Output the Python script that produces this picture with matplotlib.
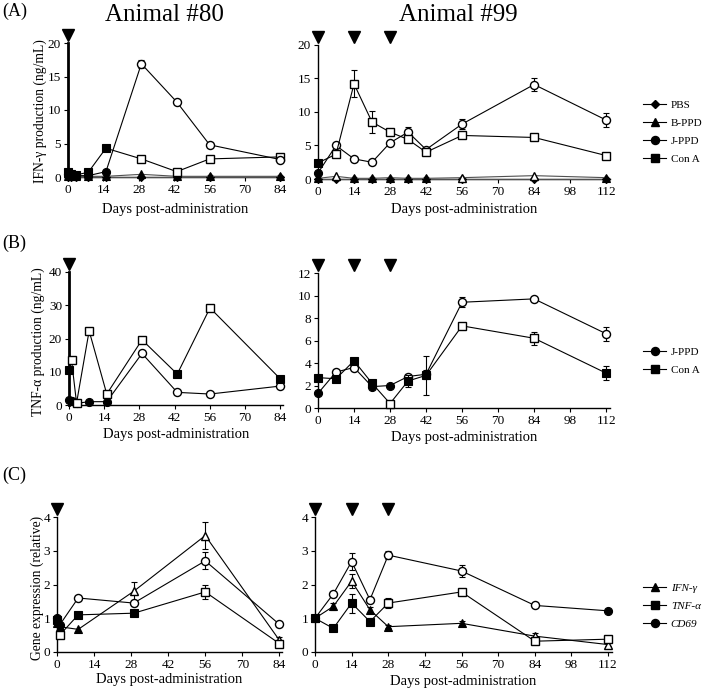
import numpy as np
import matplotlib
matplotlib.use("Agg")
import matplotlib.pyplot as plt
from matplotlib.lines import Line2D
from matplotlib import transforms

plt.rcParams['font.family'] = ['Liberation Serif', 'DejaVu Serif']
plt.rcParams['mathtext.fontset'] = 'stix'

# ---------------- data ----------------
days80 = [0, 1, 3, 8, 15, 29, 43, 56, 84]
days99 = [0, 7, 14, 21, 28, 35, 42, 56, 84, 112]
daysC80 = [0, 1, 8, 29, 56, 84]
daysC99 = [0, 7, 14, 21, 28, 56, 84, 112]
dose80 = [0]
dose99 = [0, 14, 28]

# (A) IFN-gamma, animal 80
a80_pbs = [0.0, 0.0, 0.0, 0.0, 0.0, 0.0, 0.0, 0.0, 0.0]
a80_pbs_f = [1, 1, 1, 1, 1, 1, 1, 1, 1]
a80_bppd = [0.1, 0.1, 0.1, 0.1, 0.1, 0.4, 0.1, 0.1, 0.1]
a80_bppd_f = [1, 1, 1, 1, 1, 1, 1, 1, 1]
a80_jppd = [0.5, 0.3, 0.2, 0.2, 0.8, 16.9, 11.2, 4.8, 2.6]
a80_jppd_f = [1, 1, 1, 1, 1, 0, 0, 0, 0]
a80_jppd_e = [0, 0, 0, 0, 0, 0.6, 0, 0, 0]
a80_cona = [0.8, 0.5, 0.3, 0.7, 4.3, 2.7, 0.8, 2.7, 3.0]
a80_cona_f = [1, 1, 1, 1, 1, 0, 0, 0, 0]
a80_cona_e = [0, 0, 0, 0, 0, 0, 0, 0, 0]

# (A) IFN-gamma, animal 99
a99_pbs = [0.0, 0.0, 0.0, 0.0, 0.0, 0.0, 0.0, 0.0, 0.0, 0.0]
a99_pbs_f = [1, 1, 1, 1, 1, 1, 1, 1, 1, 1]
a99_bppd = [0.1, 0.4, 0.1, 0.1, 0.2, 0.1, 0.1, 0.2, 0.5, 0.2]
a99_bppd_f = [1, 0, 1, 1, 1, 1, 1, 0, 0, 1]
a99_jppd = [0.9, 5.0, 3.0, 2.5, 5.4, 7.0, 4.4, 8.2, 14.1, 8.8]
a99_jppd_f = [1, 0, 0, 0, 0, 0, 0, 0, 0, 0]
a99_jppd_e = [0, 0.2, 0.1, 0.1, 0.3, 0.8, 0.3, 0.8, 0.9, 1.0]
a99_cona = [2.4, 3.7, 14.2, 8.5, 7.0, 5.9, 4.0, 6.5, 6.2, 3.5]
a99_cona_f = [1, 0, 0, 0, 0, 0, 0, 0, 0, 0]
a99_cona_e = [0.2, 0.2, 2.0, 1.7, 0.5, 0.4, 0.3, 0.3, 0.4, 0.3]

# (B) TNF-alpha, animal 80
b80_jppd = [1.5, 1.3, 0.5, 1.0, 1.0, 15.5, 3.8, 3.3, 5.7]
b80_jppd_f = [1, 1, 1, 1, 1, 0, 0, 0, 0]
b80_jppd_e = [0, 0, 0, 0, 0, 0, 0, 0, 0]
b80_cona = [10.5, 13.5, 0.6, 22.3, 3.3, 19.6, 9.3, 29.2, 7.8]
b80_cona_f = [1, 0, 0, 0, 0, 0, 1, 0, 1]
b80_cona_e = [0, 0, 0, 0, 0, 0, 0, 0, 0]

# (B) TNF-alpha, animal 99
b99_jppd = [1.3, 3.2, 3.6, 1.9, 2.0, 2.8, 3.0, 9.4, 9.7, 6.6]
b99_jppd_f = [1, 0, 0, 1, 1, 0, 0, 0, 0, 0]
b99_jppd_e = [0, 0, 0, 0, 0, 0.2, 0.4, 0.45, 0.1, 0.6]
b99_cona = [2.7, 2.6, 4.2, 2.2, 0.4, 2.4, 2.9, 7.3, 6.2, 3.1]
b99_cona_f = [1, 1, 1, 1, 0, 1, 1, 0, 0, 1]
b99_cona_e = [0, 0, 0.2, 0.2, 0, 0.5, 1.7, 0.2, 0.6, 0.6]

# (C) gene expression, animal 80
c80_ifn = [0.85, 0.75, 0.67, 1.8, 3.45, 0.35]
c80_ifn_f = [1, 1, 1, 0, 0, 0]
c80_ifn_e = [0, 0, 0, 0.28, 0.4, 0.1]
c80_tnf = [0.95, 0.5, 1.1, 1.15, 1.78, 0.25]
c80_tnf_f = [1, 0, 1, 1, 0, 0]
c80_tnf_e = [0, 0, 0, 0, 0.2, 0.05]
c80_cd69 = [1.0, 0.8, 1.6, 1.45, 2.7, 0.82]
c80_cd69_f = [1, 1, 0, 0, 0, 0]
c80_cd69_e = [0, 0, 0, 0.1, 0.25, 0]

# (C) gene expression, animal 99
c99_ifn = [1.0, 1.35, 2.1, 1.25, 0.75, 0.85, 0.47, 0.22]
c99_ifn_f = [1, 1, 0, 1, 1, 1, 0, 0]
c99_ifn_e = [0, 0.1, 0.2, 0.08, 0.05, 0.08, 0.1, 0.05]
c99_tnf = [1.0, 0.7, 1.45, 0.9, 1.45, 1.78, 0.32, 0.38]
c99_tnf_f = [1, 1, 1, 1, 0, 0, 0, 0]
c99_tnf_e = [0, 0, 0.28, 0.1, 0.15, 0.05, 0, 0]
c99_cd69 = [1.0, 1.72, 2.68, 1.55, 2.87, 2.4, 1.38, 1.22]
c99_cd69_f = [1, 0, 0, 0, 0, 0, 0, 1]
c99_cd69_e = [0, 0.05, 0.25, 0.05, 0.12, 0.18, 0.05, 0]

xticks80 = [0, 14, 28, 42, 56, 70, 84]
xticks99 = [0, 14, 28, 42, 56, 70, 84, 98, 112]

legA = ['PBS', 'B-PPD', 'J-PPD', 'Con A']
legB = ['J-PPD', 'Con A']
legC = ['IFN-γ', 'TNF-α', 'CD69']

# ---------------- figure ----------------
W, H = 708, 693
fig = plt.figure(figsize=(W / 100, H / 100), dpi=100)


def box(x0, y0, x1, y1):
    return [x0 / W, 1 - y1 / H, (x1 - x0) / W, (y1 - y0) / H]


def px(x, y):
    return x / W, 1 - y / H


def setup(ax, xlim, ylim, yticks, xticks, thick=False):
    ax.set_xlim(*xlim)
    ax.set_ylim(*ylim)
    ax.set_xticks(xticks)
    ax.set_yticks(yticks)
    for s in ['top', 'right']:
        ax.spines[s].set_visible(False)
    ax.spines['bottom'].set_linewidth(1.0)
    ax.spines['left'].set_linewidth(2.0 if thick else 1.0)
    ax.tick_params(direction='out', length=3, width=0.8, labelsize=9.5, pad=2)
    ax.patch.set_alpha(0)


def series(ax, days, vals, filled, err, marker, ms, lc='black', lw=0.8, z=3):
    d = np.asarray(days, float)
    v = np.asarray(vals, float)
    f = np.asarray(filled, bool)
    if err is not None:
        e = np.asarray(err, float)
        m = e > 0
        if m.any():
            ax.errorbar(d[m], v[m], yerr=e[m], fmt='none', ecolor='black',
                        elinewidth=0.8, capsize=2.5, capthick=0.8, zorder=z - 0.5,
                        clip_on=False)
    ax.plot(d, v, '-', color=lc, lw=lw, zorder=z, clip_on=False)
    ax.plot(d[~f], v[~f], ls='none', marker=marker, ms=ms, mfc='white',
            mec='black', mew=1.0, zorder=z + 0.2, clip_on=False)
    ax.plot(d[f], v[f], ls='none', marker=marker, ms=ms, mfc='black',
            mec='black', mew=0.8, zorder=z + 0.3, clip_on=False)


def doses(ax, dd):
    tr = transforms.blended_transform_factory(ax.transData, ax.transAxes)
    tr = transforms.offset_copy(tr, fig=fig, x=0, y=5.5, units='points')
    ax.plot(dd, [1.0] * len(dd), ls='none', marker='v', ms=8.5, color='black',
            transform=tr, clip_on=False, zorder=10)


# axes
axA1 = fig.add_axes(box(68, 43, 283, 177))
axA2 = fig.add_axes(box(318, 45, 610, 179))
axB1 = fig.add_axes(box(69, 272, 283, 405))
axB2 = fig.add_axes(box(318, 273, 610, 408))
axC1 = fig.add_axes(box(57, 517, 282, 652))
axC2 = fig.add_axes(box(315, 517, 612, 652))

setup(axA1, (0, 85), (0, 20), [0, 5, 10, 15, 20], xticks80, thick=True)
setup(axA2, (0, 113.5), (0, 20), [0, 5, 10, 15, 20], xticks99)
setup(axB1, (0, 85), (0, 40), [0, 10, 20, 30, 40], xticks80, thick=True)
setup(axB2, (0, 113.5), (0, 12), [0, 2, 4, 6, 8, 10, 12], xticks99)
setup(axC1, (0, 85), (0, 4), [0, 1, 2, 3, 4], xticks80)
setup(axC2, (0, 113.5), (0, 4), [0, 1, 2, 3, 4], xticks99)

MS_C, MS_S, MS_T, MS_D = 5.8, 5.4, 5.8, 4.2
GR = '#505050'

# A
series(axA1, days80, a80_pbs, a80_pbs_f, None, 'D', MS_D, lc=GR, z=3)
series(axA1, days80, a80_bppd, a80_bppd_f, None, '^', MS_T, lc=GR, z=4)
series(axA1, days80, a80_cona, a80_cona_f, a80_cona_e, 's', MS_S, z=5)
series(axA1, days80, a80_jppd, a80_jppd_f, a80_jppd_e, 'o', MS_C, z=6)

series(axA2, days99, a99_pbs, a99_pbs_f, None, 'D', MS_D, lc=GR, z=3)
series(axA2, days99, a99_bppd, a99_bppd_f, None, '^', MS_T, lc=GR, z=4)
series(axA2, days99, a99_jppd, a99_jppd_f, a99_jppd_e, 'o', MS_C, z=5)
series(axA2, days99, a99_cona, a99_cona_f, a99_cona_e, 's', MS_S, z=6)

# B
series(axB1, days80, b80_jppd, b80_jppd_f, b80_jppd_e, 'o', MS_C, z=4)
series(axB1, days80, b80_cona, b80_cona_f, b80_cona_e, 's', MS_S, z=5)
series(axB2, days99, b99_jppd, b99_jppd_f, b99_jppd_e, 'o', MS_C, z=4)
series(axB2, days99, b99_cona, b99_cona_f, b99_cona_e, 's', MS_S, z=5)

# C
series(axC1, daysC80, c80_ifn, c80_ifn_f, c80_ifn_e, '^', MS_T, z=4)
series(axC1, daysC80, c80_tnf, c80_tnf_f, c80_tnf_e, 's', MS_S, z=5)
series(axC1, daysC80, c80_cd69, c80_cd69_f, c80_cd69_e, 'o', MS_C, z=6)
series(axC2, daysC99, c99_ifn, c99_ifn_f, c99_ifn_e, '^', MS_T, z=4)
series(axC2, daysC99, c99_tnf, c99_tnf_f, c99_tnf_e, 's', MS_S, z=5)
series(axC2, daysC99, c99_cd69, c99_cd69_f, c99_cd69_e, 'o', MS_C, z=6)

for ax in (axA1, axB1, axC1):
    doses(ax, dose80)
for ax in (axA2, axB2, axC2):
    doses(ax, dose99)

# x labels
for ax, y in ((axA1, 210), (axA2, 210), (axB1, 435), (axB2, 437), (axC1, 680), (axC2, 681)):
    bb = ax.get_position()
    fig.text((bb.x0 + bb.x1) / 2, 1 - y / H, 'Days post-administration',
             ha='center', va='center', fontsize=10.5)

# y labels
fig.text(*px(40, 111), 'IFN-γ production (ng/mL)', rotation=90,
         ha='center', va='center', fontsize=9.8)
fig.text(*px(38, 342), 'TNF-α production (ng/mL)', rotation=90,
         ha='center', va='center', fontsize=9.8)
fig.text(*px(37, 588), 'Gene expression (relative)', rotation=90,
         ha='center', va='center', fontsize=9.8)

# titles and panel labels
fig.text(*px(164, 15), 'Animal #80', ha='center', va='center', fontsize=18)
fig.text(*px(458, 15), 'Animal #99', ha='center', va='center', fontsize=18)
fig.text(*px(2, 11), '(A)', ha='left', va='center', fontsize=13)
fig.text(*px(2, 243), '(B)', ha='left', va='center', fontsize=13)
fig.text(*px(2, 475), '(C)', ha='left', va='center', fontsize=13)


# legends
def handle(marker, ms):
    return Line2D([], [], color='black', lw=0.8, marker=marker, ms=ms,
                  mfc='black', mec='black')


hA = [handle('D', MS_D), handle('^', MS_T), handle('o', MS_C), handle('s', MS_S)]
hB = [handle('o', MS_C), handle('s', MS_S)]
hC = [handle('^', MS_T), handle('s', MS_S), handle('o', MS_C)]

common = dict(loc='center left', frameon=False, borderpad=0, borderaxespad=0,
              handlelength=2.1, handletextpad=0.4)
fig.legend(hA, legA, bbox_to_anchor=px(643, 132), labelspacing=0.75,
           prop={'size': 8}, **common)
fig.legend(hB, legB, bbox_to_anchor=px(643, 361), labelspacing=0.75,
           prop={'size': 8}, **common)
fig.legend(hC, legC, bbox_to_anchor=px(643, 606), labelspacing=0.75,
           prop={'style': 'italic', 'size': 8}, **common)

fig.savefig('out.png', dpi=100)
